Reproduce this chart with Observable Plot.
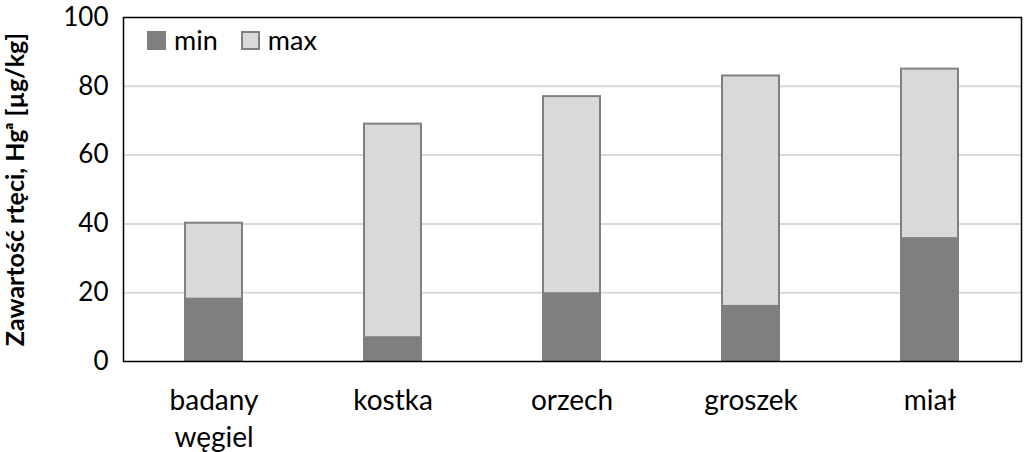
<!DOCTYPE html>
<html>
<head>
<meta charset="utf-8">
<script src="https://cdn.jsdelivr.net/npm/d3@7"></script>
<script src="https://cdn.jsdelivr.net/npm/@observablehq/plot@0.6"></script>
<style>
  html, body { margin: 0; padding: 0; background: #fff; }
  #wrap { position: relative; width: 1024px; height: 452px; font-family: Lato, "Open Sans", sans-serif; }
  #wrap svg { font-family: Lato, "Open Sans", sans-serif; }
  [aria-label="y-axis label"] text { font-weight: bold; font-size: 25px; fill: #000; }
  #legend { position: absolute; left: 147px; top: 24px; display: flex; align-items: center; font-size: 27px; line-height: 32px; color: #000; }
  #legend .sw { width: 19px; height: 19px; box-sizing: border-box; margin-right: 8px; }
  #legend .item { display: flex; align-items: center; margin-right: 23px; }
</style>
</head>
<body>
<div id="wrap"><div id="legend"></div></div>
<script>
const categories = ["badany\nwęgiel", "kostka", "orzech", "groszek", "miał"];
const minValues = [18.4, 7.2, 20, 16.3, 36];
const maxValues = [40.2, 69, 77, 83, 85];
const yTicks = [0, 20, 40, 60, 80, 100];
const seriesNames = ["min", "max"];
const seriesColors = ["#7f7f7f", "#d9d9d9"];
const yLabel = "Zawartość rtęci, Hg\u1d43 [µg/kg]";

const rows = categories.map((c, i) => ({cat: c, min: minValues[i], max: maxValues[i]}));

const chart = Plot.plot({
  width: 1024,
  height: 452,
  marginLeft: 123,
  marginRight: 3,
  marginTop: 17,
  marginBottom: 91,
  style: {fontSize: "24px", color: "#000", background: "#fff", overflow: "visible"},
  x: {domain: categories, paddingInner: 0.68, paddingOuter: 0.34, label: null},
  y: {domain: [0, 100], label: yLabel},
  marks: [
    Plot.gridY(yTicks.filter(d => d > 0 && d < 100), {stroke: "#d9d9d9", strokeOpacity: 1, strokeWidth: 2}),
    Plot.barY(rows, {x: "cat", y1: 0, y2: "max", fill: seriesColors[1], stroke: "#808080", strokeWidth: 2}),
    Plot.barY(rows, {x: "cat", y1: 0, y2: "min", fill: seriesColors[0]}),
    Plot.frame({stroke: "#000", strokeWidth: 1.5}),
    Plot.axisY(yTicks, {tickSize: 0, tickPadding: 15, fontSize: 26, label: yLabel, labelAnchor: "center", labelArrow: "none", labelOffset: 117}),
    Plot.axisX({tickSize: 0, tickPadding: 23, fontSize: 28, lineHeight: 1.3, label: null})
  ]
});
document.getElementById("wrap").appendChild(chart);

const legend = document.getElementById("legend");
seriesNames.forEach((n, i) => {
  const item = document.createElement("div");
  item.className = "item";
  const sw = document.createElement("div");
  sw.className = "sw";
  sw.style.background = seriesColors[i];
  if (i === 1) sw.style.border = "2px solid #808080";
  const t = document.createElement("span");
  t.textContent = n;
  item.appendChild(sw); item.appendChild(t);
  legend.appendChild(item);
});
</script>
</body>
</html>
